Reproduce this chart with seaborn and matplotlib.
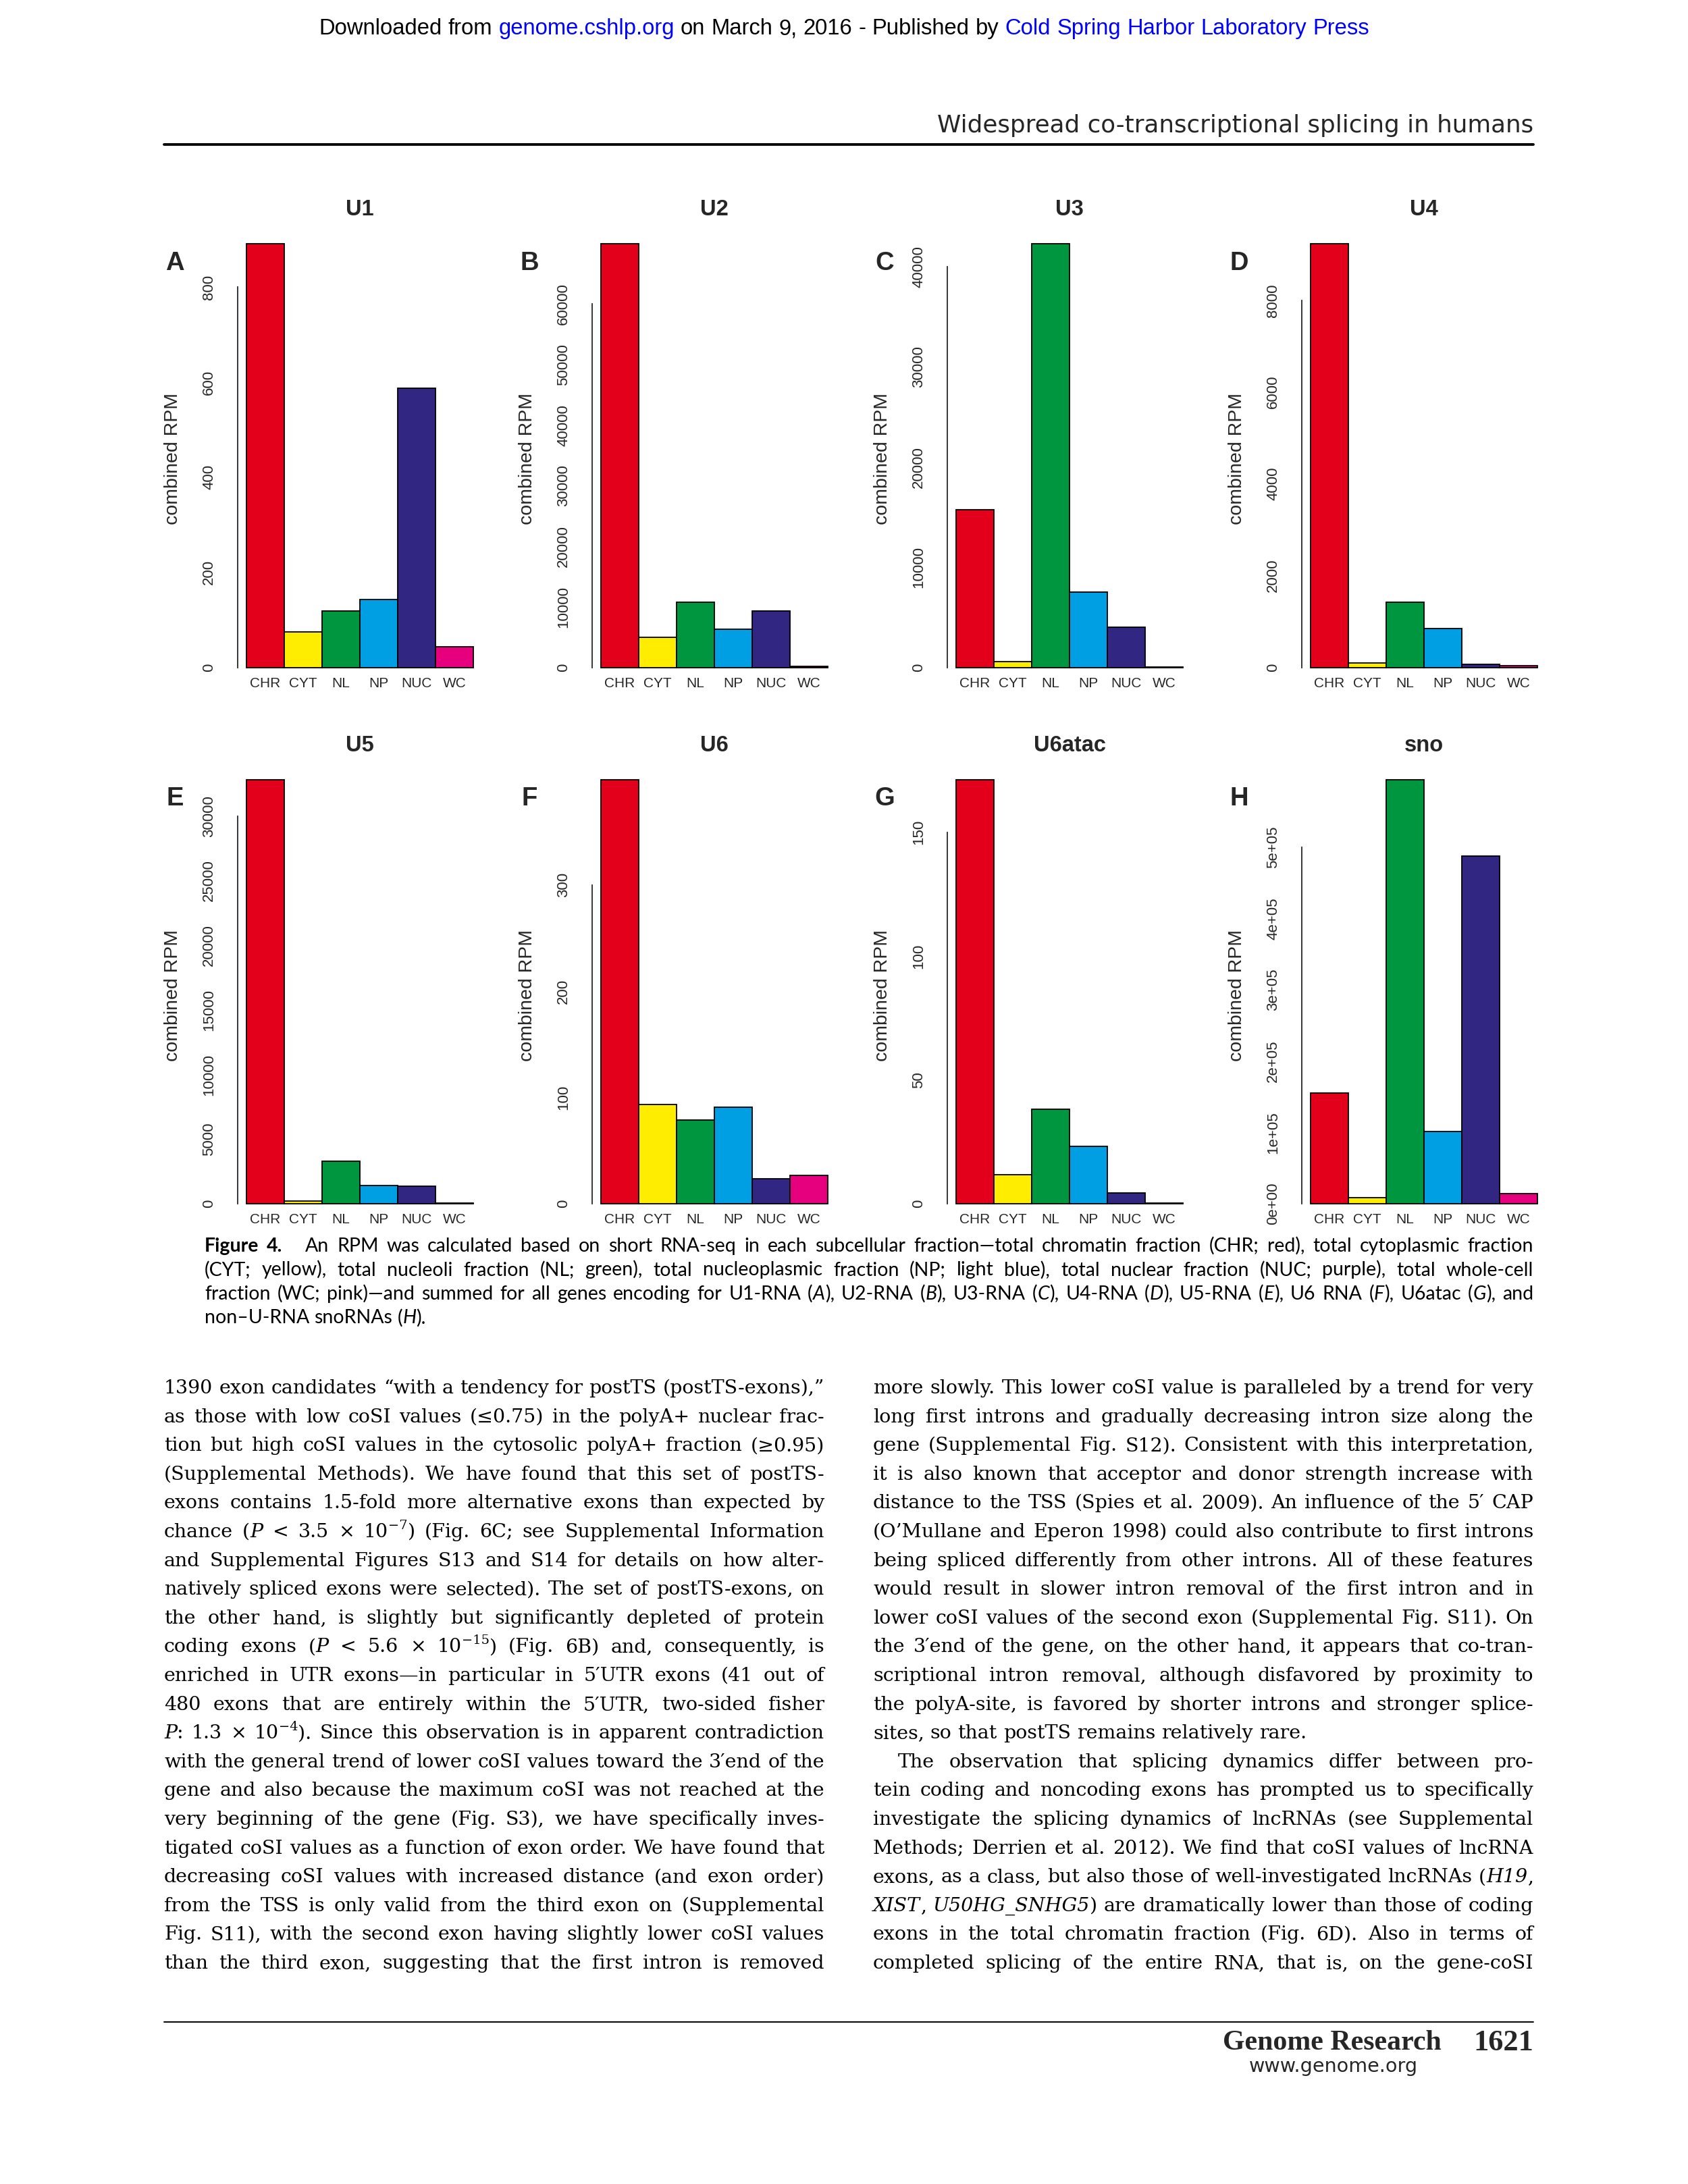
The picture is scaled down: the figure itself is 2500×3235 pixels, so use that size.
import re
import matplotlib
matplotlib.use("Agg")
import matplotlib.pyplot as plt
from matplotlib.lines import Line2D
import seaborn as sns

W, H = 2500, 3235

# --- data ---
fractions = ["CHR", "CYT", "NL", "NP", "NUC", "WC"]
frac_colors = ["#E2001A", "#FFED00", "#009640", "#009FE3", "#312783", "#E6007E"]

u1_rpm = [892, 75, 119, 143, 588, 43]
u2_rpm = [70000, 5000, 10800, 6300, 9300, 200]
u3_rpm = [15700, 560, 42300, 7500, 4000, 50]
u4_rpm = [9240, 100, 1420, 840, 70, 36]
u5_rpm = [32800, 200, 3300, 1400, 1350, 50]
u6_rpm = [399, 93.4, 78.9, 90.6, 23.2, 26.9]
u6atac_rpm = [171.2, 11.7, 38.2, 23.2, 4.4, 0.4]
sno_rpm = [155300, 8300, 594500, 100900, 488000, 13800]

u1_ticks = [0, 200, 400, 600, 800]
u2_ticks = [0, 10000, 20000, 30000, 40000, 50000, 60000]
u3_ticks = [0, 10000, 20000, 30000, 40000]
u4_ticks = [0, 2000, 4000, 6000, 8000]
u5_ticks = [0, 5000, 10000, 15000, 20000, 25000, 30000]
u6_ticks = [0, 100, 200, 300]
u6atac_ticks = [0, 50, 100, 150]
sno_ticks = [0, 100000, 200000, 300000, 400000, 500000]
sno_ticklabels = ["0e+00", "1e+05", "2e+05", "3e+05", "4e+05", "5e+05"]

panel_letters = ["A", "B", "C", "D", "E", "F", "G", "H"]
panel_titles = ["U1", "U2", "U3", "U4", "U5", "U6", "U6atac", "sno"]
panel_values = [u1_rpm, u2_rpm, u3_rpm, u4_rpm, u5_rpm, u6_rpm, u6atac_rpm, sno_rpm]
panel_ticks = [u1_ticks, u2_ticks, u3_ticks, u4_ticks, u5_ticks, u6_ticks, u6atac_ticks, sno_ticks]
panel_ticklabels = [[str(t) for t in tk] for tk in panel_ticks[:7]] + [sno_ticklabels]

header_line = "Downloaded from #genome.cshlp.org# on March 9, 2016 - Published by #Cold Spring Harbor Laboratory Press#"
running_head = "Widespread co-transcriptional splicing in humans"

caption_lines = [
    "**Figure 4.** [gap] An RPM was calculated based on short RNA-seq in each subcellular fraction—total chromatin fraction (CHR; red), total cytoplasmic fraction",
    "(CYT; yellow), total nucleoli fraction (NL; green), total nucleoplasmic fraction (NP; light blue), total nuclear fraction (NUC; purple), total whole-cell",
    "fraction (WC; pink)—and summed for all genes encoding for U1-RNA (*A*), U2-RNA (*B*), U3-RNA (*C*), U4-RNA (*D*), U5-RNA (*E*), U6 RNA (*F*), U6atac (*G*), and",
    "non–U-RNA snoRNAs (*H*).",
]

left_col = [
    "1390 exon candidates “with a tendency for postTS (postTS-exons),”",
    "as those with low coSI values (≤0.75) in the polyA+ nuclear frac-",
    "tion but high coSI values in the cytosolic polyA+ fraction (≥0.95)",
    "(Supplemental Methods). We have found that this set of postTS-",
    "exons contains 1.5-fold more alternative exons than expected by",
    "chance (*P* < 3.5 × 10^−7^) (Fig. 6C; see Supplemental Information",
    "and Supplemental Figures S13 and S14 for details on how alter-",
    "natively spliced exons were selected). The set of postTS-exons, on",
    "the other hand, is slightly but significantly depleted of protein",
    "coding exons (*P* < 5.6 × 10^−15^) (Fig. 6B) and, consequently, is",
    "enriched in UTR exons—in particular in 5′UTR exons (41 out of",
    "480 exons that are entirely within the 5′UTR, two-sided fisher",
    "*P*: 1.3 × 10^−4^). Since this observation is in apparent contradiction",
    "with the general trend of lower coSI values toward the 3′end of the",
    "gene and also because the maximum coSI was not reached at the",
    "very beginning of the gene (Fig. S3), we have specifically inves-",
    "tigated coSI values as a function of exon order. We have found that",
    "decreasing coSI values with increased distance (and exon order)",
    "from the TSS is only valid from the third exon on (Supplemental",
    "Fig. S11), with the second exon having slightly lower coSI values",
    "than the third exon, suggesting that the first intron is removed",
]

right_col = [
    "more slowly. This lower coSI value is paralleled by a trend for very",
    "long first introns and gradually decreasing intron size along the",
    "gene (Supplemental Fig. S12). Consistent with this interpretation,",
    "it is also known that acceptor and donor strength increase with",
    "distance to the TSS (Spies et al. 2009). An influence of the 5′ CAP",
    "(O’Mullane and Eperon 1998) could also contribute to first introns",
    "being spliced differently from other introns. All of these features",
    "would result in slower intron removal of the first intron and in",
    "lower coSI values of the second exon (Supplemental Fig. S11). On",
    "the 3′end of the gene, on the other hand, it appears that co-tran-",
    "scriptional intron removal, although disfavored by proximity to",
    "the polyA-site, is favored by shorter introns and stronger splice-",
    "sites, so that postTS remains relatively rare.",
    "The observation that splicing dynamics differ between pro-",
    "tein coding and noncoding exons has prompted us to specifically",
    "investigate the splicing dynamics of lncRNAs (see Supplemental",
    "Methods; Derrien et al. 2012). We find that coSI values of lncRNA",
    "exons, as a class, but also those of well-investigated lncRNAs (*H19*,",
    "*XIST*, *U50HG_SNHG5*) are dramatically lower than those of coding",
    "exons in the total chromatin fraction (Fig. 6D). Also in terms of",
    "completed splicing of the entire RNA, that is, on the gene-coSI",
]

sns.set_style("white")
plt.rcParams["font.family"] = ["Liberation Sans", "DejaVu Sans"]

fig = plt.figure(figsize=(W / 100, H / 100), dpi=100)
renderer = fig.canvas.get_renderer()


def fx(x):
    return x / W


def fy(y):
    return 1 - y / H


# --- the eight bar panels (R barplot look) ---
spine_x = [351.7, 876.7, 1402.7, 1927.7]
row_base = [988.5, 1783.0]
row_top = [360.5, 1155.0]
letter_y = [389.6, 1183.0]
ylab_y = [679.0, 1474.0]
bar_px = 56.1
xpad = 0.235

for i in range(8):
    r, c = divmod(i, 4)
    left, base, top = spine_x[c], row_base[r], row_top[r]
    vals = panel_values[i]
    ticks = panel_ticks[i]
    ax = fig.add_axes([fx(left), fy(base), bar_px * (6 + 2 * xpad) / W, (base - top) / H])
    sns.barplot(x=fractions, y=vals, hue=fractions, order=fractions, hue_order=fractions,
                palette=frac_colors, saturation=1, width=1.0, edgecolor="black",
                linewidth=1.3, legend=False, ax=ax)
    for p in ax.patches:
        p.set_clip_on(False)
    ax.set_xlim(-0.5 - xpad, 5.5 + xpad)
    ax.set_ylim(0, max(vals))
    for s in ["top", "right", "bottom"]:
        ax.spines[s].set_visible(False)
    ax.spines["left"].set_bounds(ticks[0], ticks[-1])
    ax.spines["left"].set_linewidth(1.3)
    ax.set_yticks(ticks, labels=panel_ticklabels[i])
    ax.tick_params(axis="y", length=10.8, width=1.3, pad=12)
    for t in ax.get_yticklabels():
        t.set_rotation(90)
        t.set_va("center")
        t.set_ha("right")
        t.set_fontsize(16)
    ax.set_xticks(range(6), labels=fractions)
    ax.tick_params(axis="x", length=0, pad=10.4, labelsize=15)
    ax.set_xlabel("")
    ax.set_ylabel("")
    ax.set_title(panel_titles[i], fontsize=23.5, fontweight="bold", pad=30)
    fig.text(fx(left - 92.5), fy(letter_y[r]), panel_letters[i], fontsize=27.5,
             fontweight="bold", ha="center", va="center")
    fig.text(fx(left - 96), fy(ylab_y[r]), "combined RPM", rotation=90,
             ha="center", va="center", fontsize=20.5)


# --- simple rich text line layout ---
LINK = "#0000FF"


def parse_words(line):
    words = []
    bold = italic = sup = link = False
    for w in line.split(" "):
        if not w:
            continue
        if w == "[gap]":
            words.append(None)
            continue
        runs = []
        for part in re.split(r"(\*\*|\*|\^|#)", w):
            if part == "**":
                bold = not bold
            elif part == "*":
                italic = not italic
            elif part == "^":
                sup = not sup
            elif part == "#":
                link = not link
            elif part:
                runs.append((part, bold, italic, sup, link))
        words.append(runs)
    return words


def make_runs(line, family, size, color):
    words = []
    for runs in parse_words(line):
        if runs is None:
            words.append(None)
            continue
        items = []
        for s, bold, italic, sup, link in runs:
            t = fig.text(0, 0, s, fontsize=size * 0.68 if sup else size, family=family,
                         fontweight="bold" if bold else "normal",
                         fontstyle="italic" if italic else "normal",
                         color=LINK if link else color, ha="left", va="baseline")
            w = t.get_window_extent(renderer).width
            items.append((t, w, size * 0.42 * 100 / 72 if sup else 0))
        words.append(items)
    return words


def space_w(family, size):
    a = fig.text(0, 0, "n n", fontsize=size, family=family)
    b = fig.text(0, 0, "nn", fontsize=size, family=family)
    w = a.get_window_extent(renderer).width - b.get_window_extent(renderer).width
    a.remove()
    b.remove()
    return w


def word_w(items, sp):
    return sp * 1.4 if items is None else sum(w for _, w, _ in items)


def natural(line, family, size):
    words = make_runs(line, family, size, "black")
    sp = space_w(family, size)
    tot = sum(word_w(wd, sp) for wd in words) + sp * (len(words) - 1)
    for wd in words:
        if wd:
            for t, _, _ in wd:
                t.remove()
    return tot


def draw_line(line, x0, x1, y, family, size, mode="justify", color="black", indent=0):
    words = make_runs(line, family, size, color)
    sp = space_w(family, size)
    ws = [word_w(wd, sp) for wd in words]
    n = len(words)
    gap = sp
    if mode == "justify" and n > 1:
        gap = (x1 - x0 - indent - sum(ws)) / (n - 1)
    full = sum(ws) + gap * (n - 1)
    if mode == "center":
        x = (x0 + x1) / 2 - full / 2
    elif mode == "right":
        x = x1 - full
    else:
        x = x0 + indent
    for wd, w in zip(words, ws):
        if wd:
            cx = x
            for t, tw, dy in wd:
                t.set_position((fx(cx), fy(y - dy)))
                cx += tw
        x += w + gap


def fit_size(lines, family, base, avail, slack=1.02):
    worst = max(natural(l, family, base) / avail for l in lines)
    return base * min(1.0, slack / worst)


def fit_text(s, x, y, width, ha, family, weight="normal"):
    t = fig.text(fx(x), fy(y), s, fontsize=20, family=family, fontweight=weight,
                 ha=ha, va="center")
    w = t.get_window_extent(renderer).width
    t.set_fontsize(20 * width / w)
    return t


# header
hdr_size = 20 * 1552 / natural(header_line, "Liberation Sans", 20)
draw_line(header_line, 474, 2026, 51, "Liberation Sans", hdr_size, mode="center")
fit_text(running_head, 2271, 186, 885, "right", "DejaVu Sans")
fig.add_artist(Line2D([fx(243), fx(2271)], [fy(214), fy(214)], lw=2.8, color="black"))

# caption
cap_family = ["Lato", "DejaVu Sans"]
cap_size = fit_size(caption_lines[:3], cap_family, 20.5, 2271 - 303, 1.05)
for k, line in enumerate(caption_lines):
    draw_line(line, 303, 2271, 1854 + k * 35.5, cap_family, cap_size,
              mode="justify" if k < 3 else "left")

# body text, two columns
body_family = ["DejaVu Serif", "DejaVu Sans"]
col_w = 1221 - 243
body_size = fit_size(left_col + right_col[:12] + right_col[14:], body_family, 20.5, col_w, 1.04)
for k, line in enumerate(left_col):
    draw_line(line, 243, 1221, 2064 + k * 42.6, body_family, body_size)
for k, line in enumerate(right_col):
    y = 2064 + k * 42.6
    if k == 12:
        draw_line(line, 1293, 2271, y, body_family, body_size, mode="left")
    elif k == 13:
        draw_line(line, 1293, 2271, y, body_family, body_size, indent=37)
    else:
        draw_line(line, 1293, 2271, y, body_family, body_size)

# footer
fig.add_artist(Line2D([fx(243), fx(2271)], [fy(2995), fy(2995)], lw=1.4, color="black"))
fit_text("Genome Research", 2135, 3026, 324, "right", "Liberation Serif", "bold")
fit_text("1621", 2271, 3026, 89, "right", "Liberation Serif", "bold")
fit_text("www.genome.org", 1975, 3061, 250, "center", "DejaVu Sans")

fig.savefig("out.png", dpi=100)
